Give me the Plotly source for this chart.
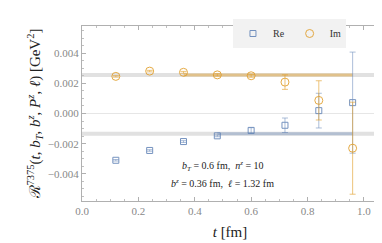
import plotly.graph_objects as go

t = [0.12, 0.24, 0.36, 0.48, 0.60, 0.72, 0.84, 0.96]
re_val = [-0.00310, -0.00245, -0.00186, -0.00148, -0.00112, -0.00078, 0.00019, 0.00072]
re_err = [0.00005, 0.00005, 0.00006, 0.00006, 0.00018, 0.00048, 0.00115, 0.00335]
im_val = [0.00246, 0.00281, 0.00273, 0.00256, 0.00250, 0.00208, 0.00087, -0.00230]
im_err = [0.00005, 0.00005, 0.00006, 0.00008, 0.00010, 0.00048, 0.00130, 0.00305]

re_fit = -0.00135
im_fit = 0.00256
re_fit_range = [0.48, 0.96]
im_fit_range = [0.36, 0.96]
x_span = [0.0, 1.05]

blue = "#5E81B5"
orange = "#E19C24"
band = "rgba(200,200,200,0.55)"

fig = go.Figure()

for v in (im_fit, re_fit):
    fig.add_trace(go.Scatter(x=x_span, y=[v, v], mode="lines",
                             line=dict(color=band, width=4), showlegend=False, hoverinfo="skip"))
fig.add_trace(go.Scatter(x=x_span, y=[0, 0], mode="lines",
                         line=dict(color="#e6e6e6", width=1), showlegend=False, hoverinfo="skip"))
fig.add_trace(go.Scatter(x=im_fit_range, y=[im_fit, im_fit], mode="lines",
                         line=dict(color="rgba(225,156,36,0.45)", width=3), showlegend=False, hoverinfo="skip"))
fig.add_trace(go.Scatter(x=re_fit_range, y=[re_fit, re_fit], mode="lines",
                         line=dict(color="rgba(94,129,181,0.35)", width=3), showlegend=False, hoverinfo="skip"))

fig.add_trace(go.Scatter(
    x=t, y=re_val, mode="markers", name="Re",
    marker=dict(symbol="square-open", size=6, color=blue, line=dict(width=1)),
    error_y=dict(type="data", array=re_err, color="rgba(94,129,181,0.6)", thickness=1, width=3),
    opacity=0.85))
fig.add_trace(go.Scatter(
    x=t, y=im_val, mode="markers", name="Im",
    marker=dict(symbol="circle-open", size=8, color=orange, line=dict(width=1)),
    error_y=dict(type="data", array=im_err, color="rgba(225,156,36,0.7)", thickness=1, width=3),
    opacity=0.85))

font_fam = "Liberation Serif"
axis_common = dict(showline=True, linecolor="#b0b0b0", linewidth=1, mirror="ticks",
                   ticks="inside", ticklen=4, tickcolor="#b0b0b0", showgrid=False,
                   zeroline=False, tickfont=dict(family=font_fam, size=11, color="#888888"))

fig.update_layout(
    width=382, height=243,
    margin=dict(l=74, r=12, t=11, b=50),
    paper_bgcolor="white", plot_bgcolor="white",
    font=dict(family=font_fam),
    xaxis=dict(range=x_span, tickvals=[0, 0.2, 0.4, 0.6, 0.8, 1.0],
               ticktext=["0.0", "0.2", "0.4", "0.6", "0.8", "1.0"],
               minor=dict(dtick=0.05, ticks="inside", ticklen=2, tickcolor="#c0c0c0"),
               title=dict(text="<i>t</i> [fm]", font=dict(family=font_fam, size=15, color="#222"), standoff=10),
               **axis_common),
    yaxis=dict(range=[-0.0058, 0.0058], tickvals=[-0.004, -0.002, 0, 0.002, 0.004],
               ticktext=["\u22120.004", "\u22120.002", "0.000", "0.002", "0.004"],
               minor=dict(dtick=0.0005, ticks="inside", ticklen=2, tickcolor="#c0c0c0"),
               title=dict(text="\u211B<sup>7375</sup>(<i>t</i>, <i>b<sub>T</sub></i>, <i>b<sup>z</sup></i>, <i>P<sup>z</sup></i>, <i>\u2113</i>) [GeV<sup>2</sup>]",
                          font=dict(family=font_fam, size=15, color="#222"), standoff=3),
               **axis_common),
    legend=dict(orientation="h", x=0.51, y=1.04, xanchor="left", yanchor="top",
                bgcolor="#f2f2f2", font=dict(family=font_fam, size=10, color="#333"),
                itemwidth=30, tracegroupgap=0),
    annotations=[
        dict(text="<i>b<sub>T</sub></i> = 0.6 fm,  <i>n<sup>z</sup></i> = 10", x=0.5, y=-0.0035,
             xref="x", yref="y", showarrow=False, font=dict(family=font_fam, size=10, color="#222")),
        dict(text="<i>b<sup>z</sup></i> = 0.36 fm,  <i>\u2113</i> = 1.32 fm", x=0.5, y=-0.00463,
             xref="x", yref="y", showarrow=False, font=dict(family=font_fam, size=10, color="#222")),
    ],
)

fig.write_html("out.html")
